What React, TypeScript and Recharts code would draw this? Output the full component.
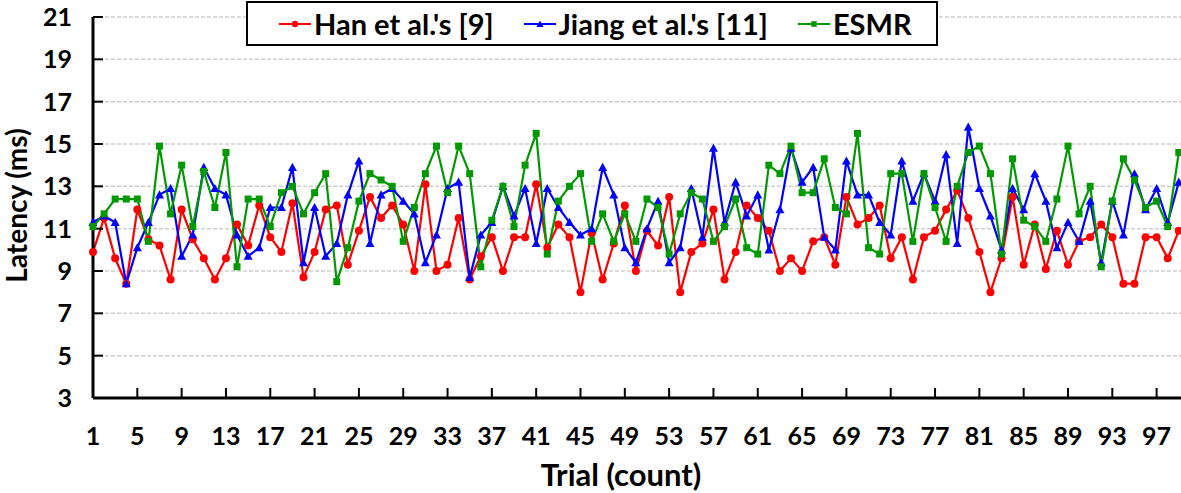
import React from "react"
import { CartesianGrid, Line, LineChart, XAxis, YAxis } from "recharts"

// Latency per trial (ms)
const trials = Array.from({ length: 99 }, (_, i) => i + 1)

const han = [
  9.9, 11.5, 9.6, 8.4, 11.9, 10.5, 10.2, 8.6, 11.9, 10.5,
  9.6, 8.6, 9.6, 11.2, 10.2, 12.1, 10.6, 9.9, 12.2, 8.7,
  9.9, 11.9, 12.1, 9.3, 10.9, 12.5, 11.5, 12.1, 11.2, 9.0,
  13.1, 9.0, 9.3, 11.5, 8.6, 9.7, 10.6, 9.0, 10.6, 10.6,
  13.1, 10.1, 11.2, 10.6, 8.0, 10.8, 8.6, 10.3, 12.1, 9.0,
  10.9, 10.2, 12.5, 8.0, 9.9, 10.3, 11.9, 8.6, 9.9, 12.1,
  11.5, 10.9, 9.0, 9.6, 9.0, 10.4, 10.6, 9.3, 12.5, 11.2,
  11.5, 12.1, 9.6, 10.6, 8.6, 10.6, 10.9, 11.9, 12.8, 11.5,
  9.9, 8.0, 9.6, 12.5, 9.3, 11.2, 9.1, 10.9, 9.3, 10.4,
  10.6, 11.2, 10.6, 8.4, 8.4, 10.6, 10.6, 9.6, 10.9,
]

const jiang = [
  11.3, 11.6, 11.3, 8.4, 10.1, 11.3, 12.6, 12.9, 9.7, 10.7,
  13.9, 12.9, 12.6, 10.7, 9.7, 10.1, 12.0, 12.0, 13.9, 9.4,
  12.0, 9.7, 10.3, 12.6, 14.2, 10.3, 12.6, 12.9, 12.3, 11.7,
  9.4, 10.7, 12.9, 13.2, 8.7, 10.7, 11.3, 13.0, 11.6, 12.9,
  10.3, 12.9, 12.0, 11.3, 10.7, 11.0, 13.9, 12.6, 10.1, 9.4,
  11.0, 12.3, 9.4, 10.1, 12.9, 10.6, 14.8, 11.3, 13.2, 11.6,
  12.6, 10.0, 11.9, 14.8, 13.2, 13.9, 10.6, 10.0, 14.2, 12.6,
  12.6, 11.3, 10.7, 14.2, 12.3, 13.6, 12.3, 14.5, 10.3, 15.8,
  12.9, 11.6, 10.0, 12.9, 11.9, 13.6, 12.3, 10.1, 11.3, 10.4,
  12.3, 9.4, 12.3, 10.7, 13.6, 11.9, 12.9, 11.3, 13.2,
]

const esmr = [
  11.1, 11.7, 12.4, 12.4, 12.4, 10.4, 14.9, 11.7, 14.0, 11.1,
  13.7, 12.0, 14.6, 9.2, 12.4, 12.4, 11.1, 12.7, 13.0, 11.7,
  12.7, 13.6, 8.5, 10.1, 12.3, 13.6, 13.3, 13.0, 10.4, 12.0,
  13.6, 14.9, 12.7, 14.9, 13.6, 9.2, 11.4, 13.0, 11.1, 14.0,
  15.5, 9.8, 12.3, 13.0, 13.6, 10.4, 11.7, 10.4, 11.7, 10.4,
  12.4, 12.0, 9.8, 11.7, 12.7, 12.4, 10.4, 11.1, 12.4, 10.1,
  9.8, 14.0, 13.6, 14.9, 12.7, 12.7, 14.3, 12.0, 11.7, 15.5,
  10.1, 9.8, 13.6, 13.6, 10.4, 13.6, 12.0, 10.4, 13.0, 14.6,
  14.9, 13.6, 9.8, 14.3, 11.4, 11.1, 10.4, 12.4, 14.9, 11.7,
  13.0, 9.2, 12.3, 14.3, 13.3, 12.0, 12.3, 11.1, 14.6,
]

const xTicks = [1, 5, 9, 13, 17, 21, 25, 29, 33, 37, 41, 45, 49, 53, 57, 61, 65, 69, 73, 77, 81, 85, 89, 93, 97]
const yTicks = [3, 5, 7, 9, 11, 13, 15, 17, 19, 21]

const series = [
  { key: "han", name: "Han et al.'s [9]", color: "#ff0000", shape: "circle" },
  { key: "jiang", name: "Jiang et al.'s [11]", color: "#0000ff", shape: "triangle" },
  { key: "esmr", name: "ESMR", color: "#009900", shape: "square" },
]

const data = trials.map((t, i) => ({ trial: t, han: han[i], jiang: jiang[i], esmr: esmr[i] }))

const FONT = "Lato, 'Open Sans', sans-serif"

function Marker({ cx, cy, shape, color, size = 1 }: any) {
  if (cx == null || cy == null) return null
  if (shape === "circle") return <circle cx={cx} cy={cy} r={4 * size} fill={color} />
  if (shape === "triangle") {
    const s = 4.5 * size
    return <polygon points={`${cx},${cy - s} ${cx - s},${cy + s * 0.8} ${cx + s},${cy + s * 0.8}`} fill={color} />
  }
  const h = 3.5 * size
  return <rect x={cx - h} y={cy - h} width={h * 2} height={h * 2} fill={color} />
}

function LegendBox() {
  return (
    <div
      style={{
        position: "absolute",
        left: 246,
        top: 1,
        width: 688,
        height: 41,
        border: "2px solid #000",
        background: "#fff",
        display: "flex",
        alignItems: "center",
        fontFamily: FONT,
        fontWeight: 700,
        fontSize: 29,
        color: "#000",
        boxSizing: "content-box",
      }}
    >
      {series.map((s, i) => (
        <div key={s.key} style={{ display: "flex", alignItems: "center", marginLeft: i === 0 ? 31 : 30 }}>
          <svg width={32} height={12} style={{ marginRight: 3 }}>
            <line x1={0} y1={6} x2={32} y2={6} stroke={s.color} strokeWidth={2} />
            <Marker cx={16} cy={6} shape={s.shape} color={s.color} size={0.8} />
          </svg>
          <span>{s.name}</span>
        </div>
      ))}
    </div>
  )
}

export default function App() {
  return (
    <div style={{ position: "absolute", left: 0, top: 0, width: 1181, height: 493, background: "#fff" }}>
      <LineChart width={1181} height={493} data={data} margin={{ top: 17, right: 0, left: 0, bottom: 0 }}>
        <CartesianGrid vertical={false} stroke="#cfcfcf" strokeDasharray="4 2" strokeWidth={1.5} />
        <XAxis
          dataKey="trial"
          type="number"
          domain={[1, 99.2]}
          ticks={xTicks}
          interval={0}
          height={95}
          tickSize={-10}
          tickMargin={39}
          axisLine={{ stroke: "#000", strokeWidth: 3 }}
          tickLine={{ stroke: "#000", strokeWidth: 2 }}
          tick={{ fill: "#000", fontSize: 25, fontWeight: 700, fontFamily: FONT }}
          label={{
            value: "Trial (count)",
            position: "insideBottom",
            offset: 7,
            dx: -16,
            fill: "#000",
            fontSize: 31,
            fontWeight: 700,
            fontFamily: FONT,
          }}
        />
        <YAxis
          type="number"
          domain={[3, 21]}
          ticks={yTicks}
          interval={0}
          width={93}
          tickSize={-10}
          tickMargin={31}
          axisLine={{ stroke: "#000", strokeWidth: 3 }}
          tickLine={{ stroke: "#000", strokeWidth: 2 }}
          tick={{ fill: "#000", fontSize: 25, fontWeight: 700, fontFamily: FONT }}
          label={{
            value: "Latency (ms)",
            angle: -90,
            position: "center",
            dx: -29,
            dy: -2,
            fill: "#000",
            fontSize: 28,
            fontWeight: 700,
            fontFamily: FONT,
          }}
        />
        {series.map((s) => (
          <Line
            key={s.key}
            dataKey={s.key}
            name={s.name}
            stroke={s.color}
            strokeWidth={2.2}
            isAnimationActive={false}
            dot={(p: any) => <Marker key={`${s.key}-${p.index}`} cx={p.cx} cy={p.cy} shape={s.shape} color={s.color} />}
            activeDot={false}
          />
        ))}
      </LineChart>
      <LegendBox />
    </div>
  )
}
